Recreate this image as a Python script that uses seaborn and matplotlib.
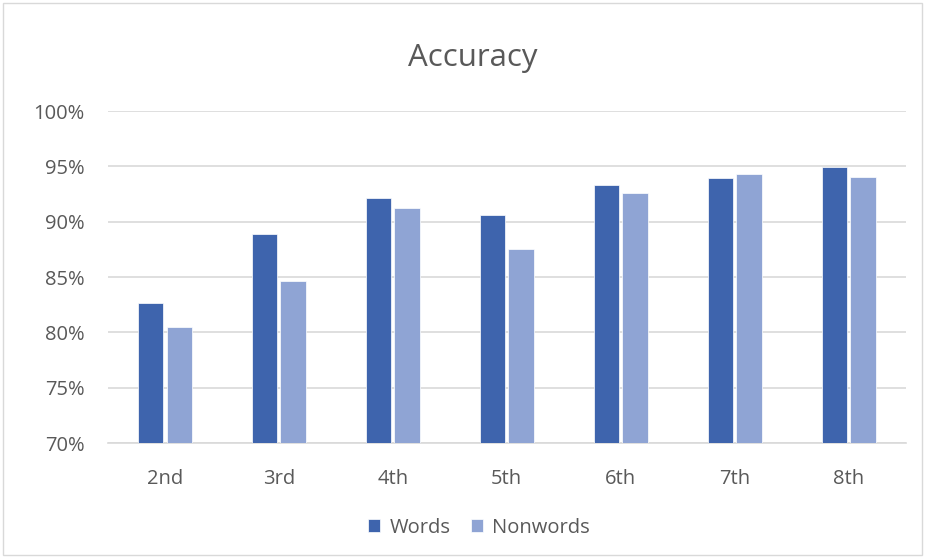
import matplotlib
matplotlib.use("Agg")
import matplotlib.pyplot as plt
import seaborn as sns
import pandas as pd
from matplotlib.patches import Rectangle
from matplotlib.ticker import FuncFormatter

grades = ["2nd", "3rd", "4th", "5th", "6th", "7th", "8th"]
words = [82.7, 88.9, 92.1, 90.65, 93.3, 93.95, 94.9]
nonwords = [80.5, 84.65, 91.25, 87.55, 92.55, 94.3, 94.05]
series_names = ["Words", "Nonwords"]
colors = ["#3E64AD", "#8FA4D4"]
yticks = [70, 75, 80, 85, 90, 95, 100]

df = pd.DataFrame({
    "Grade": grades * 2,
    "Accuracy": words + nonwords,
    "Series": [series_names[0]] * len(grades) + [series_names[1]] * len(grades),
})

sns.set_theme(style="white")
plt.rcParams["font.family"] = ["Open Sans", "DejaVu Sans"]

fig = plt.figure(figsize=(9.26, 5.58), dpi=100)
ax = fig.add_axes([0.1166, 0.206, 0.8614, 0.595])

sns.barplot(data=df, x="Grade", y="Accuracy", hue="Series", order=grades,
            hue_order=series_names, palette=colors, width=0.5, gap=0.11,
            saturation=1, edgecolor="white", linewidth=0.5, ax=ax, legend=True,
            zorder=3)

ax.set_ylim(70, 100)
ax.set_yticks(yticks)
ax.yaxis.set_major_formatter(FuncFormatter(lambda v, p: f"{v:.0f}%"))
ax.grid(axis="y", color="#d9d9d9", linewidth=1.2, zorder=0)
ax.set_axisbelow(True)
for s in ["left", "right", "top"]:
    ax.spines[s].set_visible(False)
ax.spines["bottom"].set_color("#d9d9d9")
ax.spines["bottom"].set_linewidth(1.2)
ax.tick_params(axis="y", length=0, pad=17, labelsize=14.5, labelcolor="#595959")
ax.tick_params(axis="x", length=0, pad=19, labelsize=14.5, labelcolor="#595959")
ax.set_xlabel("")
ax.set_ylabel("")
fig.text(0.511, 1 - 58 / 558, "Accuracy", fontsize=22.5, color="#595959",
         ha="center", va="center")

leg = ax.legend(loc="center", bbox_to_anchor=(0.465, -0.256), ncol=2,
                frameon=False, fontsize=14.5, handlelength=0.62, handleheight=0.62,
                handletextpad=0.45, columnspacing=1.0)
for t in leg.get_texts():
    t.set_color("#595959")

fig.patches.append(Rectangle((0.003, 0.005), 0.993, 0.99, transform=fig.transFigure,
                             fill=False, edgecolor="#d9d9d9", linewidth=1))

fig.savefig("out.png", dpi=100)
